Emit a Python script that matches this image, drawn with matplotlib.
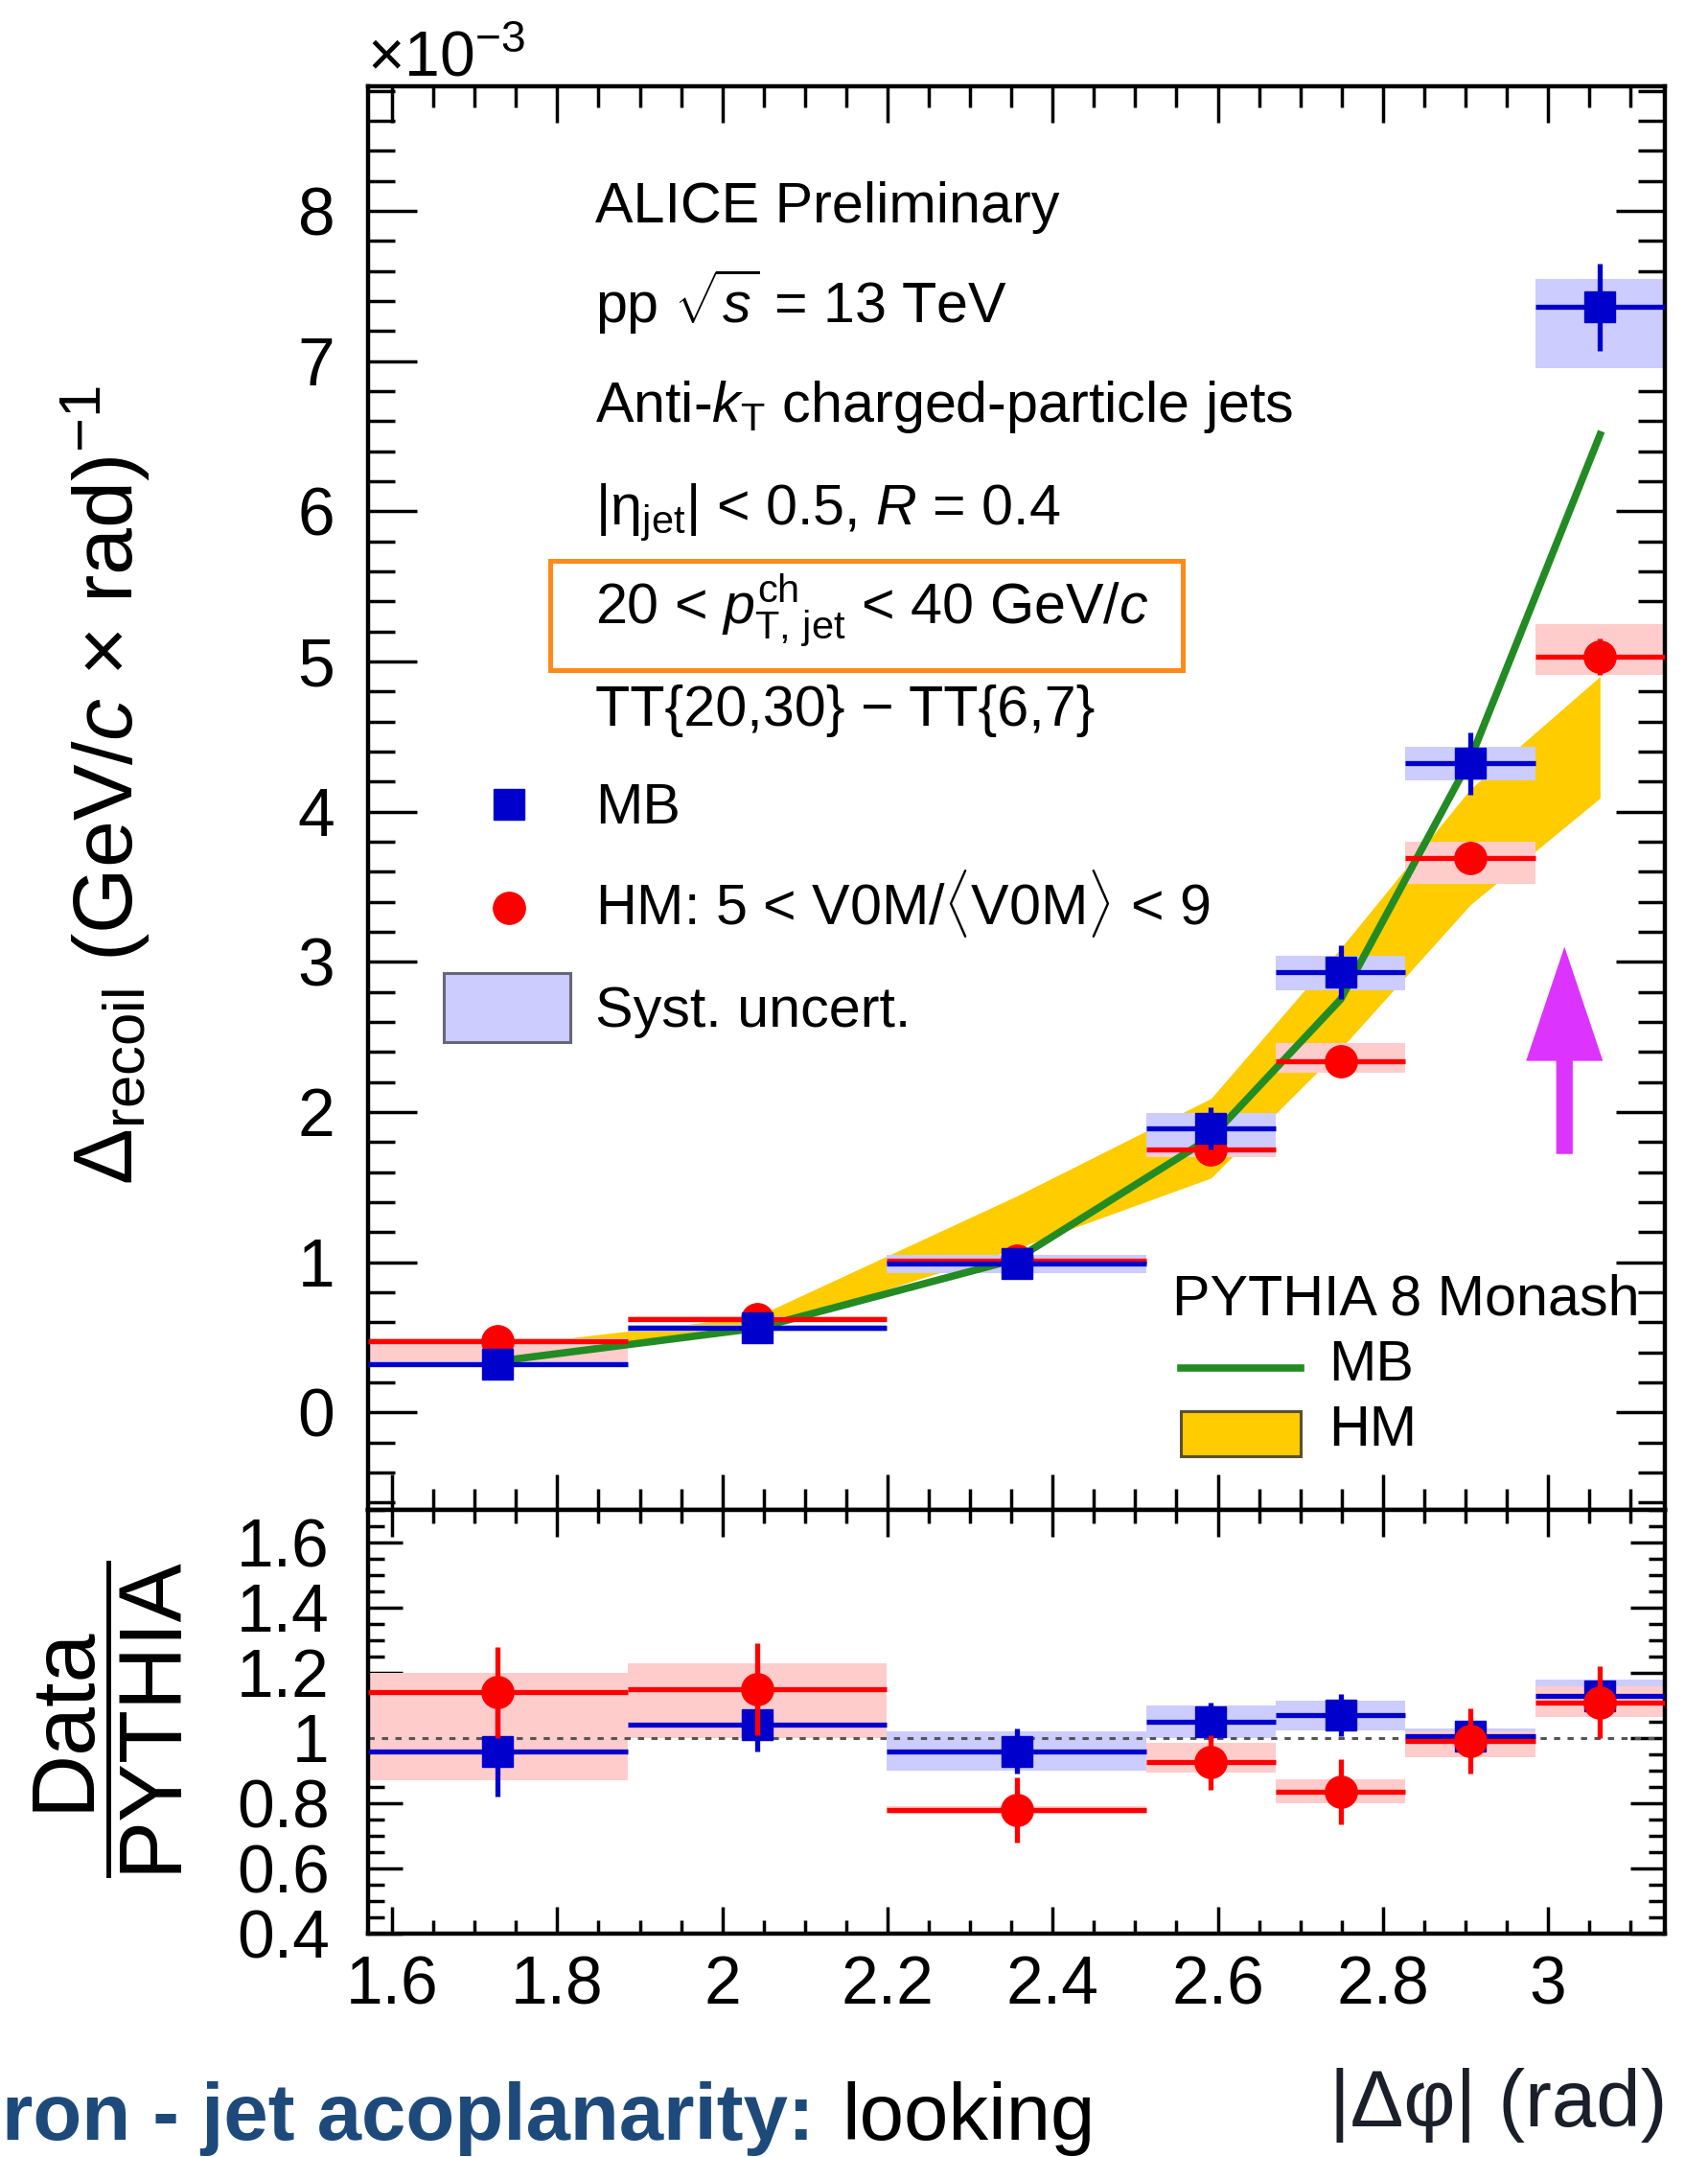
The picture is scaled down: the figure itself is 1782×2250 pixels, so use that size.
"""
Recoil-jet acoplanarity, MB vs HM, with PYTHIA comparison and Data/PYTHIA ratio.
"""
import numpy as np
import matplotlib
matplotlib.use("Agg")
import matplotlib.pyplot as plt
from matplotlib import font_manager
from matplotlib.patches import Rectangle, FancyArrow
from matplotlib.lines import Line2D
from matplotlib.ticker import MultipleLocator, FixedLocator

# ── data ──────────────────────────────────────────────────────────────────
edges_pi = [0.5, 0.6, 0.7, 0.8, 0.85, 0.9, 0.95, 1.0]      # bin edges / pi

mb_val    = [0.32, 0.56, 0.99, 1.89, 2.93, 4.32, 7.36]      # x 1e-3
mb_stat   = [0.04, 0.04, 0.05, 0.14, 0.18, 0.21, 0.29]
mb_sys_dn = [0.02, 0.02, 0.06, 0.17, 0.12, 0.11, 0.41]
mb_sys_up = [0.02, 0.02, 0.06, 0.10, 0.11, 0.11, 0.19]

hm_val    = [0.475, 0.62, 1.01, 1.75, 2.34, 3.69, 5.03]
hm_stat   = [0.03, 0.03, 0.04, 0.06, 0.08, 0.09, 0.12]
hm_sys_dn = [0.15, 0.02, 0.02, 0.05, 0.08, 0.17, 0.12]
hm_sys_up = [0.02, 0.02, 0.02, 0.05, 0.12, 0.11, 0.22]

pythia_mb    = [0.34, 0.56, 1.02, 1.83, 2.75, 4.35, 6.51]
pythia_hm_lo = [0.40, 0.55, 1.09, 1.56, 2.42, 3.38, 4.09]
pythia_hm_hi = [0.44, 0.64, 1.44, 2.09, 3.09, 4.15, 4.90]

r_mb      = [0.96, 1.04, 0.96, 1.05, 1.07, 1.005, 1.13]
r_mb_stat = [0.14, 0.08, 0.07, 0.06, 0.065, 0.04, 0.05]
r_mb_sys  = [0.02, 0.04, 0.06, 0.05, 0.045, 0.025, 0.05]

r_hm       = [1.14, 1.15, 0.78, 0.925, 0.835, 0.99, 1.11]
r_hm_stat  = [0.14, 0.14, 0.10, 0.085, 0.10, 0.10, 0.11]
r_hm_sy_dn = [0.27, 0.15, 0.012, 0.03, 0.035, 0.05, 0.045]
r_hm_sy_up = [0.06, 0.08, 0.012, 0.06, 0.04, 0.03, 0.05]

ratio_ticks  = [0.4, 0.6, 0.8, 1.0, 1.2, 1.4, 1.6]
ratio_labels = ["0.4", "0.6", "0.8", "1", "1.2", "1.4", "1.6"]
x_ticks      = [1.6, 1.8, 2.0, 2.2, 2.4, 2.6, 2.8, 3.0]
x_labels     = ["1.6", "1.8", "2", "2.2", "2.4", "2.6", "2.8", "3"]

# magenta arrow (data coords)
arrow_x, arrow_y0, arrow_y1 = 3.02, 1.72, 3.10

# ── style ─────────────────────────────────────────────────────────────────
BLUE, RED = "#0000cc", "#ff0000"
BLUE_BOX, RED_BOX = "#ccccff", "#ffcccc"
GREEN, YELLOW = "#238b23", "#ffcc00"
ORANGE, MAGENTA = "#ff8a1a", "#dd33ff"

names = {f.name for f in font_manager.fontManager.ttflist}
if "Liberation Sans Narrow" in names:
    FONT, K, KT = "Liberation Sans Narrow", 1.0, 1.0
else:
    FONT, K, KT = "Liberation Sans", 0.88, 0.82
plt.rcParams["font.family"] = [FONT, "DejaVu Sans"]
plt.rcParams["mathtext.fontset"] = "custom"
plt.rcParams["mathtext.rm"] = FONT
plt.rcParams["mathtext.it"] = FONT + ":italic"
plt.rcParams["mathtext.bf"] = FONT + ":bold"

W, H = 1783, 2250
def fx(p): return p / W
def fy(p): return 1 - p / H

edges = np.pi * np.array(edges_pi)
centers = 0.5 * (edges[1:] + edges[:-1])
hw = 0.5 * np.diff(edges)

fig = plt.figure(figsize=(W / 100, H / 100), dpi=100)
L, R = fx(384), fx(1737)
ax = fig.add_axes([L, fy(1575), R - L, fy(90) - fy(1575)])
axr = fig.add_axes([L, fy(2017), R - L, fy(1575) - fy(2017)])

# ── main panel ────────────────────────────────────────────────────────────
ax.fill_between(centers, pythia_hm_lo, pythia_hm_hi, color=YELLOW, lw=0, zorder=1)
for v, dn, up, c in [(hm_val, hm_sys_dn, hm_sys_up, RED_BOX),
                     (mb_val, mb_sys_dn, mb_sys_up, BLUE_BOX)]:
    v, dn, up = map(np.asarray, (v, dn, up))
    ax.bar(edges[:-1], dn + up, bottom=v - dn, width=np.diff(edges),
           align="edge", color=c, lw=0, zorder=2)
ax.plot(centers, pythia_mb, color=GREEN, lw=5.5, zorder=3)
ax.errorbar(centers, hm_val, xerr=hw, yerr=hm_stat, fmt="o", ms=24,
            color=RED, elinewidth=3.8, capsize=0, zorder=4)
ax.errorbar(centers, mb_val, xerr=hw, yerr=mb_stat, fmt="s", ms=23,
            color=BLUE, elinewidth=3.8, capsize=0, zorder=5)
ax.add_patch(FancyArrow(arrow_x, arrow_y0, 0, arrow_y1 - arrow_y0,
                        width=0.02, head_width=0.093, head_length=0.76,
                        length_includes_head=True, color=MAGENTA, lw=0, zorder=6))

ax.set_xlim(np.pi / 2, np.pi)
ax.set_ylim(-0.65, 8.83)
ax.xaxis.set_major_locator(FixedLocator(x_ticks))
ax.xaxis.set_minor_locator(MultipleLocator(0.05))
ax.yaxis.set_major_locator(MultipleLocator(1))
ax.yaxis.set_minor_locator(MultipleLocator(0.2))
ax.tick_params(axis="both", which="both", direction="in", top=True, right=True,
               width=2.5, labelsize=57 * K)
ax.tick_params(axis="x", which="major", length=27)
ax.tick_params(axis="x", which="minor", length=16)
ax.tick_params(axis="y", which="major", length=37, pad=25)
ax.tick_params(axis="y", which="minor", length=20)
ax.tick_params(axis="x", labelbottom=False)
ax.set_yticks(range(0, 9))
ax.set_yticklabels([str(i) for i in range(0, 9)])

# ── ratio panel ───────────────────────────────────────────────────────────
axr.bar(edges[:-1], 2 * np.asarray(r_mb_sys), bottom=np.asarray(r_mb) - r_mb_sys,
        width=np.diff(edges), align="edge", color=BLUE_BOX, lw=0, zorder=2)
axr.bar(edges[:-1], np.add(r_hm_sy_dn, r_hm_sy_up),
        bottom=np.subtract(r_hm, r_hm_sy_dn), width=np.diff(edges),
        align="edge", color=RED_BOX, lw=0, zorder=2)
axr.axhline(1.0, color="#555555", lw=2.2, dashes=(2.1, 2.5), zorder=2.5)
axr.errorbar(centers, r_mb, xerr=hw, yerr=r_mb_stat, fmt="s", ms=23,
             color=BLUE, elinewidth=3.8, capsize=0, zorder=4)
axr.errorbar(centers, r_hm, xerr=hw, yerr=r_hm_stat, fmt="o", ms=24,
             color=RED, elinewidth=3.8, capsize=0, zorder=5)

axr.set_xlim(np.pi / 2, np.pi)
axr.set_ylim(0.4, 1.70)
axr.xaxis.set_major_locator(FixedLocator(x_ticks))
axr.set_xticklabels(x_labels)
axr.xaxis.set_minor_locator(MultipleLocator(0.05))
axr.yaxis.set_major_locator(FixedLocator(ratio_ticks))
axr.set_yticklabels(ratio_labels)
axr.yaxis.set_minor_locator(MultipleLocator(0.05))
axr.tick_params(axis="both", which="both", direction="in", top=True, right=True,
                width=2.5, labelsize=57 * K)
axr.tick_params(axis="x", which="major", length=20, pad=16)
axr.tick_params(axis="x", which="minor", length=10)
axr.tick_params(axis="y", which="major", length=26, pad=29)
axr.tick_params(axis="y", which="minor", length=12)

for a in (ax, axr):
    for s in a.spines.values():
        s.set_linewidth(3.2)

# ── axis titles ───────────────────────────────────────────────────────────
fig.text(fx(383), fy(80), r"$\times$10$^{-3}$", fontsize=54 * K,
         ha="left", va="baseline")
fig.text(fx(111), fy(402),
         r"$\Delta_{\mathrm{recoil}}$ (GeV/$c$ $\times$ rad)$^{-1}$",
         rotation=90, ha="center", va="top", fontsize=72 * K)
fig.text(fx(68), fy(1792), "Data", rotation=90, ha="center", va="center",
         fontsize=75 * K)
fig.text(fx(159), fy(1788), "PYTHIA", rotation=90, ha="center", va="center",
         fontsize=75 * K)
fig.add_artist(Line2D([fx(113), fx(113)], [fy(1630), fy(1956)],
                      color="black", lw=3.5))
fig.text(fx(1739), fy(2218), "|Δφ| (rad)", ha="right", va="baseline",
         fontsize=60, family=["Liberation Sans", "DejaVu Sans"], color="#1a1f2a")

# ── legend / annotations ──────────────────────────────────────────────────
TXT = 52 * KT
x_txt = fx(621)
info = [
    ("ALICE Preliminary", 232),
    (r"pp $\sqrt{s}$ = 13 TeV", 337),
    (r"Anti-$k_{\mathrm{T}}$ charged-particle jets", 440),
    (r"$|\mathrm{\eta}_{\mathrm{jet}}|$ < 0.5, $R$ = 0.4", 547),
    (r"20 < $p_{\mathrm{T,\,jet}}^{\mathrm{ch}}$ < 40 GeV/$c$", 650),
    ("TT{20,30} − TT{6,7}", 757),
    ("MB", 859),
    (r"HM: 5 < V0M/$\langle$V0M$\rangle$ < 9", 964),
    ("Syst. uncert.", 1071),
]
for s, yb in info:
    fig.text(x_txt, fy(yb), s, fontsize=TXT, ha="left", va="baseline")

fig.add_artist(Rectangle((fx(574), fy(699)), fx(1234) - fx(574), fy(585) - fy(699),
                         fill=False, ec=ORANGE, lw=3.6))
fig.add_artist(Line2D([fx(531)], [fy(839)], marker="s", ms=23, color=BLUE))
fig.add_artist(Line2D([fx(531)], [fy(947)], marker="o", ms=24, color=RED))
fig.add_artist(Rectangle((fx(463), fy(1087)), fx(595) - fx(463), fy(1015) - fy(1087),
                         fc=BLUE_BOX, ec="#666677", lw=2.2))

fig.text(fx(1223), fy(1372), "PYTHIA 8 Monash", fontsize=TXT, ha="left", va="baseline")
fig.text(fx(1386), fy(1440), "MB", fontsize=TXT, ha="left", va="baseline")
fig.text(fx(1386), fy(1508), "HM", fontsize=TXT, ha="left", va="baseline")
fig.add_artist(Line2D([fx(1232), fx(1357)], [fy(1427), fy(1427)], color=GREEN, lw=5.5))
fig.add_artist(Rectangle((fx(1232), fy(1519)), fx(1357) - fx(1232), fy(1472) - fy(1519),
                         fc=YELLOW, ec="#5a5030", lw=2.2))

# slide text at the bottom edge
fig.text(fx(2), fy(2232), "ron - jet acoplanarity:", fontsize=60, fontweight="bold",
         color="#1d4a7a", family=["Liberation Sans", "DejaVu Sans"],
         ha="left", va="baseline")
fig.text(fx(878), fy(2232), "looking", fontsize=60, color="black",
         family=["Liberation Sans", "DejaVu Sans"], ha="left", va="baseline")

fig.savefig("out.png", dpi=100)
plt.close(fig)
